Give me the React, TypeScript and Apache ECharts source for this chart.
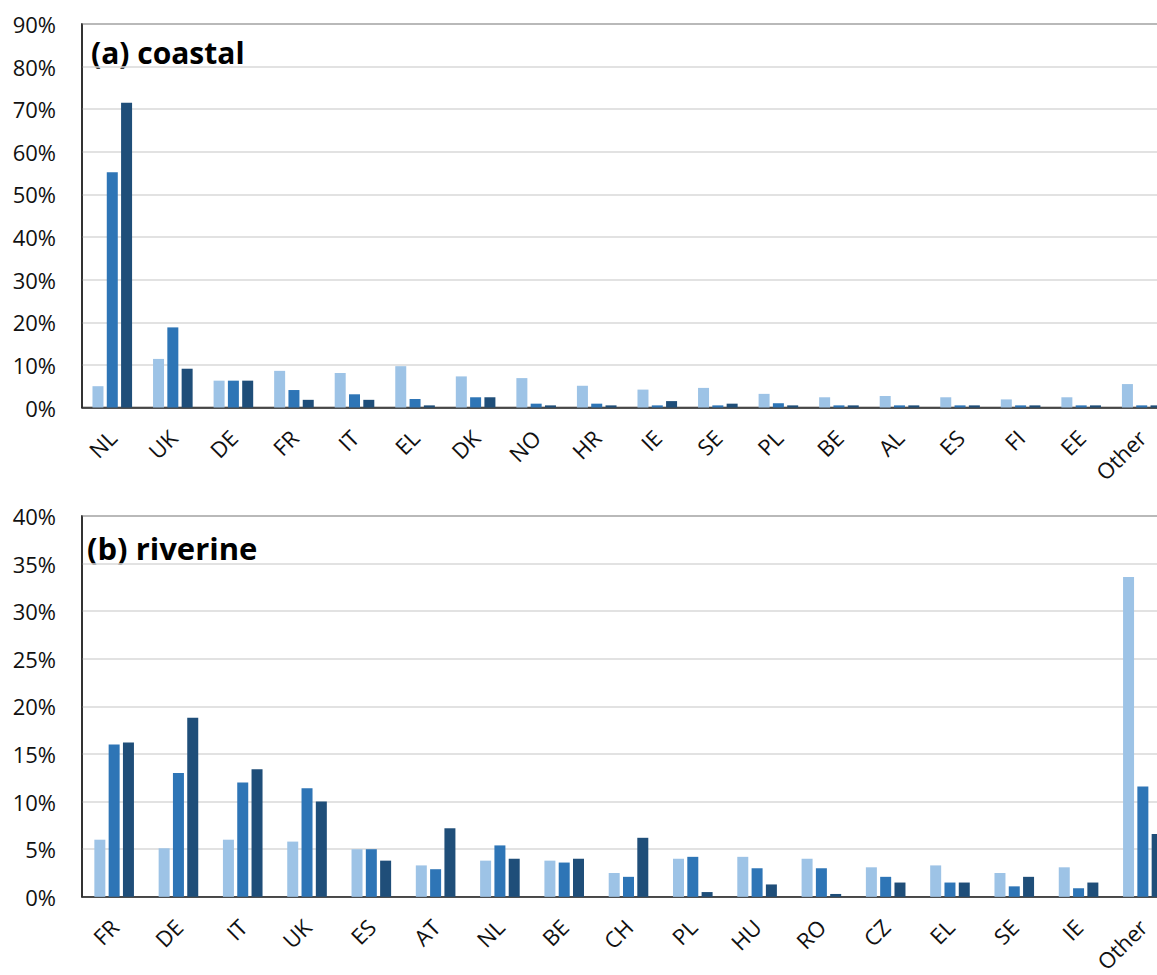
import React, { useEffect, useRef } from "react";
import * as echarts from "echarts";

const coastalCats = ["NL", "UK", "DE", "FR", "IT", "EL", "DK", "NO", "HR", "IE", "SE", "PL", "BE", "AL", "ES", "FI", "EE", "Other"];
const coastalS1 = [5.0, 11.4, 6.3, 8.6, 8.1, 9.7, 7.3, 6.9, 5.1, 4.2, 4.6, 3.2, 2.4, 2.7, 2.4, 1.9, 2.4, 5.5];
const coastalS2 = [55.2, 18.8, 6.3, 4.1, 3.1, 2.0, 2.4, 0.9, 0.9, 0.5, 0.5, 1.0, 0.5, 0.5, 0.5, 0.5, 0.5, 0.5];
const coastalS3 = [71.5, 9.1, 6.3, 1.8, 1.8, 0.5, 2.4, 0.5, 0.5, 1.5, 0.9, 0.5, 0.5, 0.5, 0.5, 0.5, 0.5, 0.5];

const riverCats = ["FR", "DE", "IT", "UK", "ES", "AT", "NL", "BE", "CH", "PL", "HU", "RO", "CZ", "EL", "SE", "IE", "Other"];
const riverS1 = [6.0, 5.1, 6.0, 5.8, 5.0, 3.3, 3.8, 3.8, 2.5, 4.0, 4.2, 4.0, 3.1, 3.3, 2.5, 3.1, 33.6];
const riverS2 = [16.0, 13.0, 12.0, 11.4, 5.0, 2.9, 5.4, 3.6, 2.1, 4.2, 3.0, 3.0, 2.1, 1.5, 1.1, 0.9, 11.6];
const riverS3 = [16.2, 18.8, 13.4, 10.0, 3.8, 7.2, 4.0, 4.0, 6.2, 0.5, 1.3, 0.3, 1.5, 1.5, 2.1, 1.5, 6.6];

const topTicks = { min: 0, max: 90, interval: 10 };
const bottomTicks = { min: 0, max: 40, interval: 5 };

const colors = ["#9DC3E6", "#2E75B6", "#1F4E79"];
const FONT = "'Open Sans', 'Noto Sans', sans-serif";

export default function App() {
  const ref = useRef<HTMLDivElement>(null);
  useEffect(() => {
    if (!ref.current) return;
    const chart = echarts.init(ref.current, undefined, { renderer: "svg" });
    const xAxisBase = (cats: string[], gridIndex: number) => ({
      type: "category",
      gridIndex,
      data: cats,
      axisTick: { show: false },
      axisLine: { lineStyle: { color: "#262626", width: 1.5 } },
      axisLabel: { interval: 0, rotate: 45, fontSize: 22, color: "#111", fontFamily: FONT, margin: 26 },
    });
    const yAxisBase = (t: any, gridIndex: number) => ({
      type: "value",
      gridIndex,
      min: t.min,
      max: t.max,
      interval: t.interval,
      axisLine: { show: true, lineStyle: { color: "#262626", width: 1.5 } },
      axisTick: { show: false },
      axisLabel: { formatter: "{value}%", fontSize: 22, color: "#111", fontFamily: FONT, margin: 26 },
      splitLine: { lineStyle: { color: "#D9D9D9", width: 1.5 } },
    });
    const mk = (data: number[], i: number, axis: number) => ({
      type: "bar",
      xAxisIndex: axis,
      yAxisIndex: axis,
      data,
      barWidth: 11,
      barGap: "30%",
      itemStyle: { color: colors[i] },
    });
    chart.setOption({
      animation: false,
      backgroundColor: "#fff",
      grid: [
        { left: 82, top: 24, width: 1090, height: 383.5, show: true, borderColor: "#262626", borderWidth: 1.5, backgroundColor: "transparent" },
        { left: 82, top: 516, width: 1093, height: 382.5, show: true, borderColor: "#262626", borderWidth: 1.5, backgroundColor: "transparent" },
      ],
      xAxis: [xAxisBase(coastalCats, 0), xAxisBase(riverCats, 1)],
      yAxis: [yAxisBase(topTicks, 0), yAxisBase(bottomTicks, 1)],
      series: [
        mk(coastalS1, 0, 0),
        mk(coastalS2, 1, 0),
        mk(coastalS3, 2, 0),
        mk(riverS1, 0, 1),
        mk(riverS2, 1, 1),
        mk(riverS3, 2, 1),
      ],
      graphic: [
        { type: "text", x: 91, y: 52, style: { text: "(a) coastal", fontSize: 30, fontWeight: "bold", fontFamily: FONT, fill: "#000", verticalAlign: "middle" } },
        { type: "text", x: 87, y: 548, style: { text: "(b) riverine", fontSize: 31, fontWeight: "bold", fontFamily: FONT, fill: "#000", verticalAlign: "middle" } },
      ],
    });
    return () => chart.dispose();
  }, []);
  return (
    <div style={{ position: "absolute", left: 0, top: 0, width: 1157, height: 975, overflow: "hidden", background: "#fff" }}>
      <div ref={ref} style={{ width: 1185, height: 975 }} />
    </div>
  );
}
